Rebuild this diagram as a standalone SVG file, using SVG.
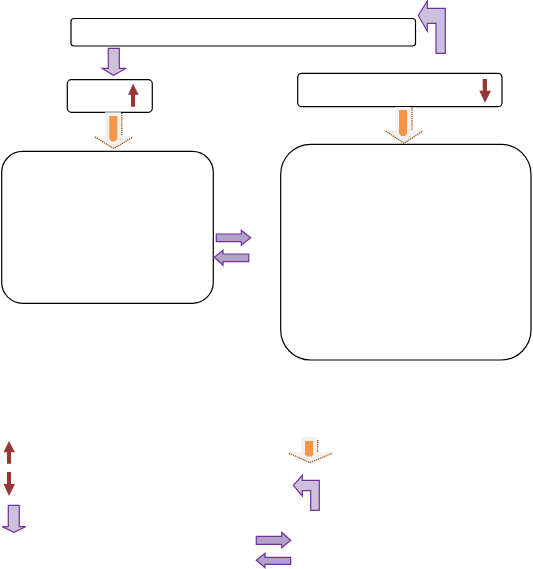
<svg xmlns="http://www.w3.org/2000/svg" width="533" height="569" viewBox="0 0 533 569">
<style>
.box{fill:#ffffff;stroke:#000000;stroke-width:1.2}
.lp{fill:#ccc1da;stroke:#7030a0;stroke-width:1.2}
.dp{fill:#b3a2c7;stroke:#7030a0;stroke-width:1.2}
.red{fill:#953735;stroke:none}
.grey{fill:#f2f2f2;stroke:none}
.orange{fill:#f79646;stroke:none}
.shadow{fill:none;stroke:#984807;stroke-width:1.3;stroke-dasharray:1.2 0.9}
</style>
<rect width="533" height="569" fill="#ffffff"/>
<g id="node-top">
<rect class="box" x="71" y="18.5" width="344.5" height="27.5" rx="3"/>
</g>
<g id="node-left-small">
<rect class="box" x="67.3" y="79.7" width="85" height="32.6" rx="4"/>
<path class="red" d="M131,106.7 L135,106.7 L135,94.7 L138.7,94.7 L133,83.7 L128,94.7 L131,94.7 Z"/>
</g>
<g id="node-right-small">
<rect class="box" x="297.7" y="73.3" width="204.3" height="33.4" rx="4"/>
<path class="red" d="M482.7,79 L487,79 L487,90.7 L491,90.7 L485,102.7 L479.3,90.7 L482.7,90.7 Z"/>
</g>
<g id="node-left-big">
<rect class="box" x="1.7" y="151.3" width="211.6" height="152" rx="21"/>
</g>
<g id="node-right-big">
<rect class="box" x="280.7" y="144.3" width="250.3" height="215.7" rx="30"/>
</g>
<g id="connectors">
<path class="lp" d="M418.3,15.5 L427.3,1 L427.3,8.3 L445.3,8.3 L445.3,53.3 L436,53.3 L436,23.3 L427.3,23.3 L427.3,31 Z"/>
<path class="lp" d="M108.3,48.3 L119.3,48.3 L119.3,68.3 L126.3,68.3 L113.3,75.3 L102.3,68.3 L108.3,68.3 Z"/>
<g id="orange-left">
<path class="grey" d="M105,112.3 L121,112.3 L121,136 L133.5,136 L113.8,148.5 L94,136 L105,136 Z"/>
<path class="orange" d="M109.3,116 L117.3,116 L117.3,139 L115,141.5 L111.6,141.5 L109.3,139 Z"/>
<path class="shadow" d="M121.8,113 L121.8,135.5 M95,137 L113.8,148.5 L133,137"/>
</g>
<g id="orange-right">
<path class="grey" d="M395,107 L410.5,107 L410.5,130 L425,130 L404,143.3 L384,130 L395,130 Z"/>
<path class="orange" d="M399,110 L407,110 L407,133.5 L405,136 L401,136 L399,133.5 Z"/>
<path class="shadow" d="M412,107.5 L412,130 M385.7,131 L404,143.3 L422.7,131"/>
</g>
<path class="dp" d="M216.3,234 L241.3,234 L241.3,230.3 L250.7,237.7 L241.3,245.3 L241.3,241.7 L216.3,241.7 Z"/>
<path class="dp" d="M214.3,257.3 L223,250.3 L223,254 L248.7,254 L248.7,261.7 L223,261.7 L223,265.3 Z"/>
</g>
<g id="legend">
<path class="red" d="M7,463.7 L11,463.7 L11,452.3 L15,452.3 L9,441 L3.5,452.3 L7,452.3 Z"/>
<path class="red" d="M7,472 L11,472 L11,484 L15,484 L9,496 L3.5,484 L7,484 Z"/>
<path class="lp" d="M8.3,505.3 L19.3,505.3 L19.3,526.7 L25.7,526.7 L14,532.3 L2.3,526.7 L8.3,526.7 Z"/>
<g id="orange-legend">
<path class="grey" d="M301,437 L316.7,437 L316.7,452.3 L332.3,452.3 L310,462.7 L287.3,452.3 L301,452.3 Z"/>
<path class="orange" d="M305,441 L313.3,441 L313.3,454.5 L311.5,456.5 L306.8,456.5 L305,454.5 Z"/>
<path class="shadow" d="M317.6,440 L317.6,452 M289,453.3 L310,462.7 L332,453.3"/>
</g>
<path class="lp" d="M293.3,485.3 L302.3,475.3 L302.3,480.3 L319.3,480.3 L319.3,510.3 L310.7,510.3 L310.7,490.7 L302.3,490.7 L302.3,496 Z"/>
<path class="dp" d="M256.3,536.3 L281.7,536.3 L281.7,532.3 L290.7,540.3 L281.7,547.7 L281.7,544.3 L256.3,544.3 Z"/>
<path class="dp" d="M256.3,560.3 L265,553.3 L265,557.3 L290.7,557.3 L290.7,564.3 L265,564.3 L265,567.7 Z"/>
</g>
</svg>
